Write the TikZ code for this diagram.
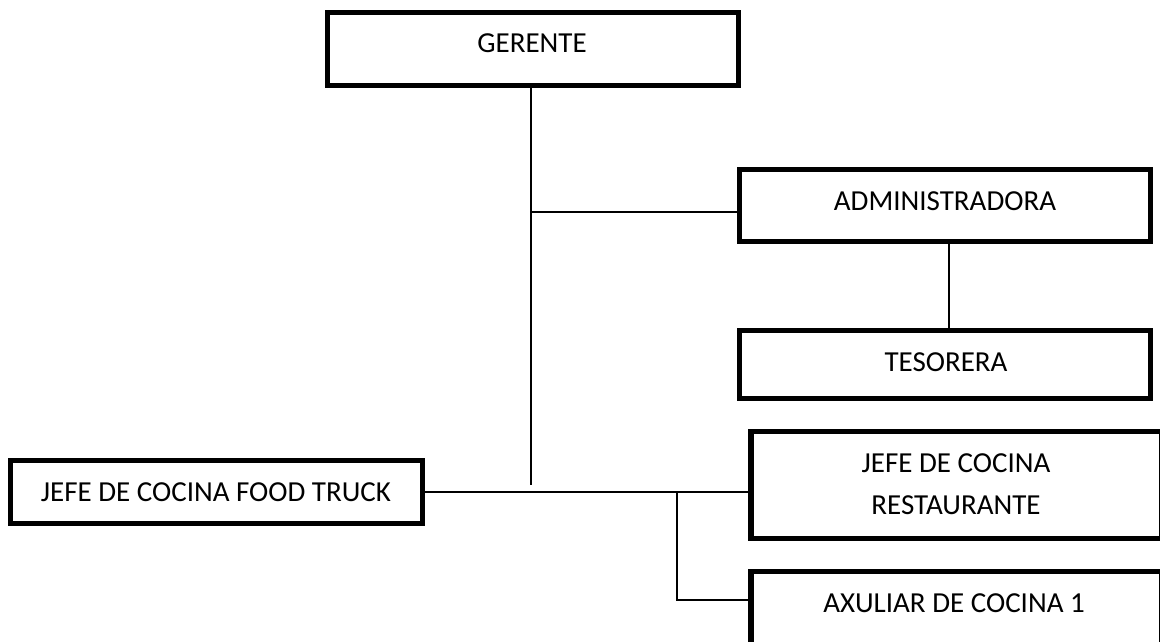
\documentclass[tikz,border=0pt]{standalone}
\usepackage{fontspec}
\setmainfont{Carlito}
\begin{document}
\begin{tikzpicture}[x=1pt,y=-1pt,
  box/.style={draw=black,line width=5.5pt,fill=white,inner sep=0pt},
  txt/.style={anchor=base,inner sep=0pt,font=\fontsize{29}{35}\selectfont},
  conn/.style={draw=black,line width=1.5pt}]
\useasboundingbox (0,0) rectangle (1160,641);
\clip (0,0) rectangle (1160,641);
% boxes
\node[box,minimum width=411pt,minimum height=73pt] (ger) at (533,49) {};
\node[box,minimum width=411pt,minimum height=72pt] (adm) at (945,205.5) {};
\node[box,minimum width=411pt,minimum height=68pt] (tes) at (945,364.5) {};
\node[box,minimum width=412pt,minimum height=63pt] (ft) at (216.5,492) {};
\node[box,minimum width=411pt,minimum height=107pt] (jr) at (956.5,485) {};
\node[box,minimum width=411pt,minimum height=74pt] (ax) at (956.5,608.5) {};
% texts
\node[txt] (gert) at (532,52) {GERENTE};
\node[txt] (admt) at (945,210) {ADMINISTRADORA};
\node[txt] (test) at (946,371) {TESORERA};
\node[txt] (ftt) at (216,501) {JEFE DE COCINA FOOD TRUCK};
\node[txt] (jrt1) at (956,472) {JEFE DE COCINA};
\node[txt] (jrt2) at (956,514) {RESTAURANTE};
\node[txt] (axt) at (954,612) {AXULIAR DE COCINA 1};
% connector points
\coordinate (gbot) at (531,485);
\coordinate (ja) at (531,212);
\coordinate (at) at (949,0);
\coordinate (br) at (677,492);
\coordinate (bl) at (677,600);
% connectors
\draw[conn] (ger.south -| gbot) -- (gbot);
\draw[conn] (ja) -- (ja -| adm.west);
\draw[conn] (adm.south -| at) -- (tes.north -| at);
\draw[conn] (ft.east) -- (ft.east -| jr.west);
\draw[conn] (br) -- (bl) -- (bl -| ax.west);
\end{tikzpicture}
\end{document}
